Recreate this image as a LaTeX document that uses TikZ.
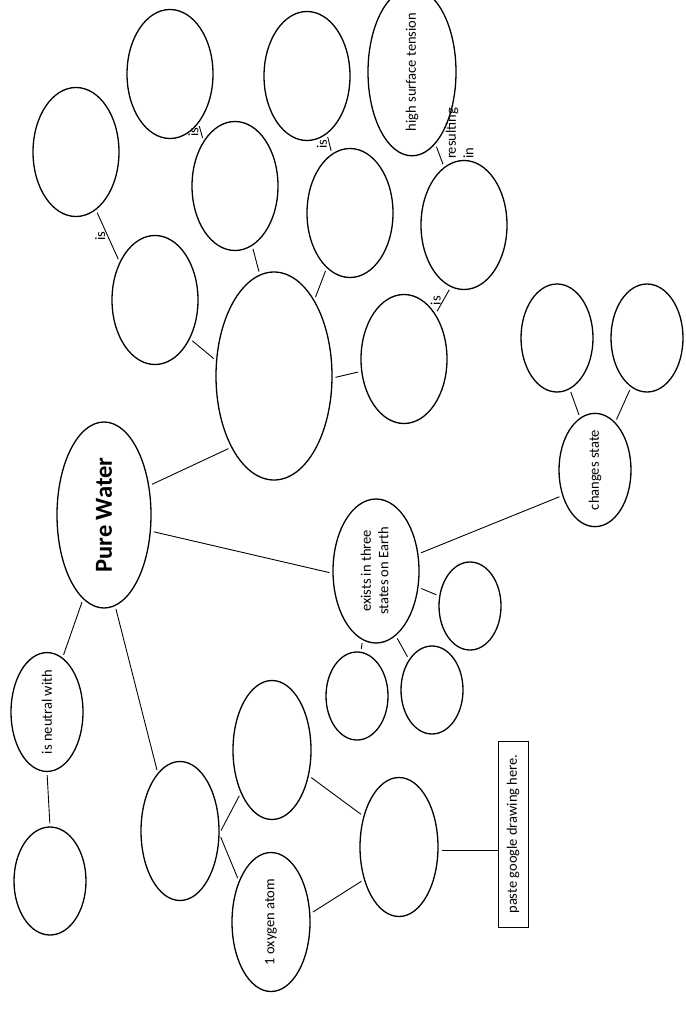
\documentclass[tikz,border=0pt]{standalone}
\usepackage{fontspec}
\setmainfont{Carlito}
\usetikzlibrary{shapes.geometric}
\tikzset{
  bubble/.style={ellipse,draw,line width=1.3pt,inner sep=0pt,minimum width=86pt,minimum height=129pt,font=\fontsize{14.5}{17.5}\selectfont},
  midbubble/.style={bubble,minimum width=72pt,minimum height=108pt},
  smallbubble/.style={bubble,minimum width=62pt,minimum height=88pt},
  tallbubble/.style={bubble,minimum width=78pt,minimum height=139pt},
  link/.style={line width=0.9pt,shorten <=3pt,shorten >=3pt},
  linkword/.style={rotate=90,anchor=south,inner sep=2pt,font=\fontsize{14.5}{17.5}\selectfont}
}

\begin{document}
\begin{tikzpicture}[x=1pt,y=-1pt]
  \useasboundingbox (0,0) rectangle (685,1024);
  \node[bubble,minimum width=94pt,minimum height=186pt,font=\fontsize{24.5}{29}\selectfont\bfseries] (pw) at (104,515) {\rotatebox{90}{Pure Water}};
  \node[bubble,minimum width=116pt,minimum height=208pt] (prop) at (274,376) {};
  \node[bubble] (p1) at (155,300) {};
  \node[bubble] (p1a) at (76,152) {};
  \node[bubble] (p2) at (235,186) {};
  \node[bubble] (p2a) at (170,74) {};
  \node[bubble] (p3) at (350,213) {};
  \node[bubble] (p3a) at (307,76) {};
  \node[bubble] (p4) at (404,359) {};
  \node[bubble] (p4a) at (464,225) {};
  \node[bubble,minimum width=88pt,minimum height=130pt] (tension) at (412,72) {\rotatebox{90}{high surface tension}};
  \node[bubble,minimum height=144pt] (states) at (376,571) {\rotatebox{90}{\begin{tabular}{@{}c@{}}exists in three\\states on Earth\end{tabular}}};
  \node[smallbubble] (st1) at (470,606) {};
  \node[smallbubble] (st2) at (432,690) {};
  \node[smallbubble] (st3) at (357,696) {};
  \node[midbubble] (change) at (595,470) {\rotatebox{90}{changes state}};
  \node[midbubble] (ch1) at (557,338) {};
  \node[midbubble] (ch2) at (647,338) {};
  \node[midbubble] (neutral) at (47,712) {\rotatebox{90}{is neutral with}};
  \node[midbubble] (nt1) at (50,881) {};
  \node[tallbubble] (comp) at (180,831) {};
  \node[tallbubble] (atomH) at (272,750) {};
  \node[tallbubble] (atomO) at (271,922) {\rotatebox{90}{1 oxygen atom}};
  \node[tallbubble] (mol) at (399,847) {};
  \node[draw,line width=0.9pt,inner sep=0pt,minimum width=30pt,minimum height=186pt,font=\fontsize{14.5}{17.5}\selectfont] (gbox) at (513,834) {\rotatebox{90}{paste google drawing here.}};

  \draw[link] (p1a.-71) -- node[linkword]{is} (p1.133);
  \draw[link] (p2a.-60) -- node[linkword]{is} (p2.125);
  \draw[link] (p3a.-71) -- node[linkword]{is} (p3.107);
  \draw[link] (tension.-72) -- node[linkword,pos=.8,anchor=north west,align=left,inner sep=3pt]{resulting\\in} (p4a.109);
  \draw[link] (p4a.-102) -- node[linkword]{is} (p4.55);
  \draw[link] (p1.-48) -- (prop.165);
  \draw[link] (p2.-74) -- (prop.98);
  \draw[link] (p3.-113) -- (prop.62);
  \draw[link] (p4.-164) -- (prop.-2);
  \draw[link] (pw.33) -- (prop.-121);
  \draw[link] (pw.-19) -- (states.-177);
  \draw[link] (pw.-104) -- (neutral.74);
  \draw[link] (pw.-83) -- (comp.111);
  \draw[link] (neutral.-90) -- (nt1.90);
  \draw[link] (states.22) -- (change.-142);
  \draw[link] (change.106) -- (ch1.-76);
  \draw[link] (change.67) -- (ch2.-108);
  \draw[link] (states.-21) -- (st1.162);
  \draw[link] (states.-73) -- (st2.127);
  \draw[link] (states.-101) -- (st3.85);
  \draw[link] (comp.-3) -- (atomH.-126);
  \draw[link] (comp.-5) -- (atomO.128);
  \draw[link] (atomH.-35) -- (mol.139);
  \draw[link] (atomO.12) -- (mol.-137);
  \draw[link,shorten >=0pt] (mol.-5) -- (mol.-5 -| gbox.west);
\end{tikzpicture}
\end{document}
